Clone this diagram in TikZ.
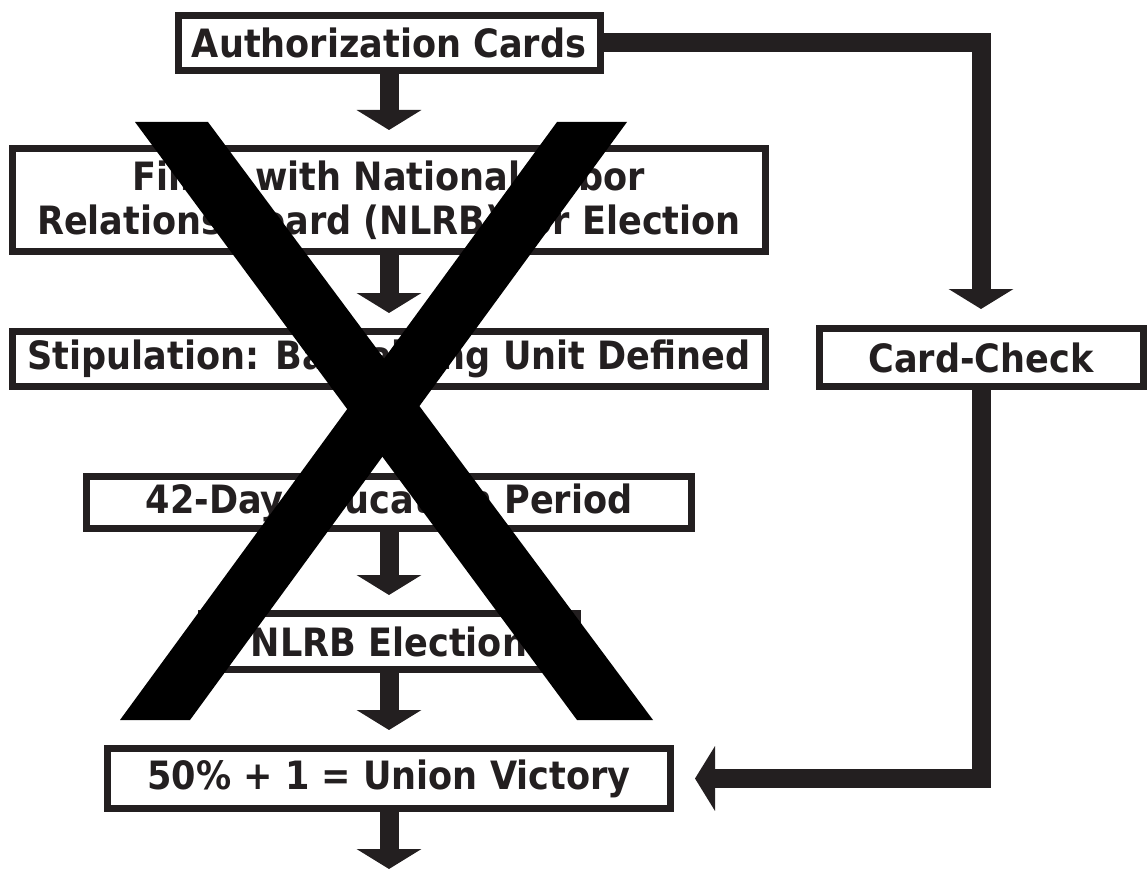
\documentclass[tikz,border=0pt]{standalone}
\usepackage{fontspec}
\setmainfont{DejaVu Sans Condensed}
\usepackage{tikz}
\usetikzlibrary{positioning,calc,arrows.meta}
\definecolor{Ink}{HTML}{231F20}
\definecolor{Cross}{HTML}{000000}

\begin{document}
\begin{tikzpicture}[
	x=1pt, y=-1pt,
	stepbox/.style={
		draw=Ink,
		fill=white,
		line width=7pt,
		inner sep=0pt,
		align=center,
		text=Ink,
		font=\fontsize{39}{44}\selectfont\bfseries
	},
	flow/.style={
		draw=Ink,
		line width=19pt,
		-{Triangle[width=64pt,length=20pt]},
		shorten >=15pt
	}
	]
	\useasboundingbox (0,0) rectangle (1147,869);
	
	% main column
	\node[stepbox, minimum width=422pt, minimum height=55pt] (auth) at (389,43) {Authorization Cards};
	\node[stepbox, minimum width=753pt, minimum height=103pt] (filing) at (389,200) {Filing with National Labor\\Relations Board (NLRB) for Election};
	\node[stepbox, minimum width=753pt, minimum height=55pt] (stip) at (389,359) {Stipulation: Bargaining Unit Defined};
	\node[stepbox, minimum width=605pt, minimum height=52pt] (edu) at (389,502.5) {42-Day Education Period};
	\node[stepbox, minimum width=376pt, minimum height=56pt] (vote) at (389,641.5) {NLRB Election};
	\node[stepbox, minimum width=563pt, minimum height=60pt] (win) at (389,778.5) {50\% + 1 = Union Victory};
	\coordinate (out) at (389,869);
	
	% card-check route
	\node[stepbox, minimum width=324pt, minimum height=58pt] (card) at (981,357.5) {Card-Check};
	
	\draw[flow] (auth) -- (filing);
	\draw[flow] (filing) -- (stip);
	\draw[flow] (edu) -- (vote);
	\draw[flow] (vote) -- (win);
	\draw[flow, shorten >=0pt] (win) -- (out);
	\draw[flow, shorten >=16pt] (auth.east) -| (card.north);
	\draw[flow, shorten >=21pt] (card.south) |- (win.east);
	
	% the cross
	\fill[Cross] (135,122) -- (208,122) -- (653,720) -- (577,720) -- cycle;
	\fill[Cross] (557,122) -- (627,122) -- (190,720) -- (120,720) -- cycle;
\end{tikzpicture}
\end{document}
